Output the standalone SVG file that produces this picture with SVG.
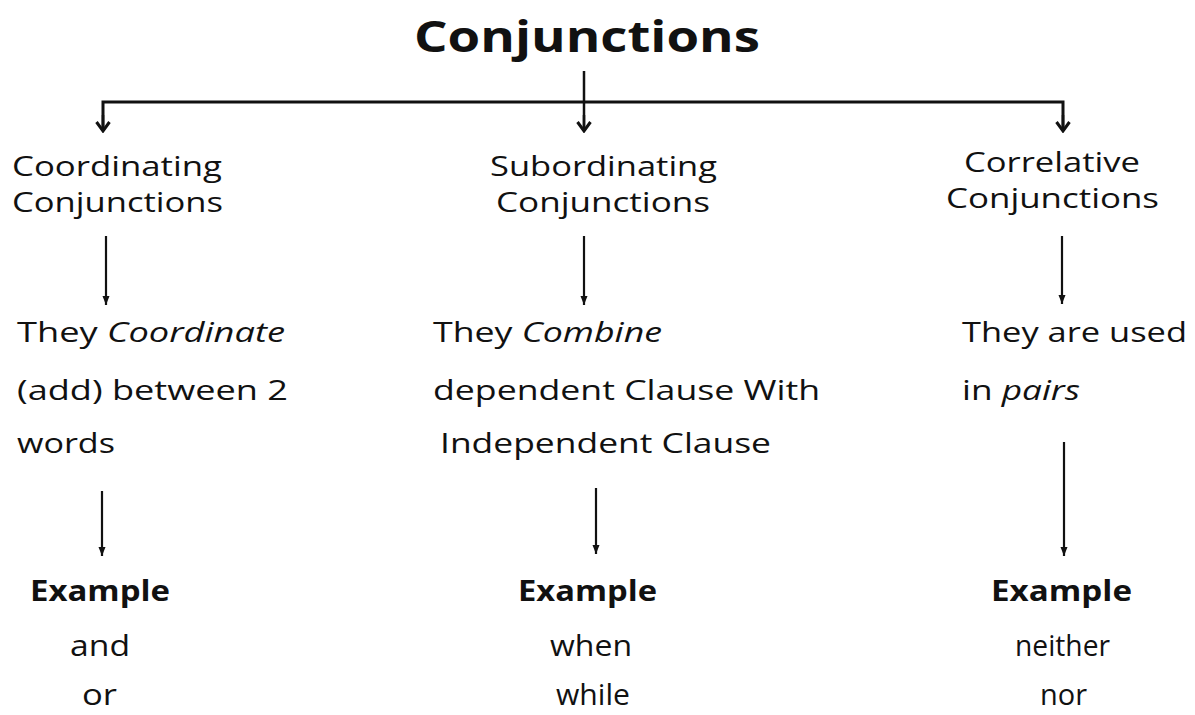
<svg xmlns="http://www.w3.org/2000/svg" width="1195" height="715" viewBox="0 0 1195 715">
<style>
text{font-family:"Open Sans","Liberation Sans",sans-serif;fill:#111}
.t{font-size:43px;font-weight:bold}
.c{font-size:27.5px}
.d{font-size:28px}
.ex{font-size:28px;font-weight:bold}
.w{font-size:30px}
.ln{stroke:#111;fill:none}
</style>
<defs>
<marker id="chev" markerWidth="12" markerHeight="16" refX="10" refY="8" orient="auto" markerUnits="userSpaceOnUse" viewBox="0 0 12 16">
<path d="M1,1.5 L10,8 L1,14.5" fill="none" stroke="#111" stroke-width="3"/>
</marker>
<marker id="tri" markerWidth="10" markerHeight="8" refX="9" refY="4" orient="auto" markerUnits="userSpaceOnUse" viewBox="0 0 10 8">
<path d="M0,0.5 L9,4 L0,7.5 Z" fill="#111"/>
</marker>
</defs>
<g id="title"><text class="t" x="414" y="52" textLength="346" lengthAdjust="spacingAndGlyphs">Conjunctions</text></g>
<g id="connectors">
<path class="ln" stroke-width="3" d="M103,131 V102 H1063 V131"/>
<path class="ln" stroke-width="2.5" d="M584,71 V131"/>
<path class="ln" stroke-width="2.5" marker-end="url(#chev)" d="M103,115 V131"/>
<path class="ln" stroke-width="2.5" marker-end="url(#chev)" d="M584,115 V131"/>
<path class="ln" stroke-width="2.5" marker-end="url(#chev)" d="M1063,115 V131"/>
<path class="ln" stroke-width="2.2" marker-end="url(#tri)" d="M106,236 V305"/>
<path class="ln" stroke-width="2.2" marker-end="url(#tri)" d="M584,236 V305"/>
<path class="ln" stroke-width="2.2" marker-end="url(#tri)" d="M1062,236 V304"/>
<path class="ln" stroke-width="2.2" marker-end="url(#tri)" d="M102,491 V556"/>
<path class="ln" stroke-width="2.2" marker-end="url(#tri)" d="M596,488 V554"/>
<path class="ln" stroke-width="2.2" marker-end="url(#tri)" d="M1064,442 V556"/>
</g>
<g id="coordinating">
<text class="c" x="12" y="176" textLength="210" lengthAdjust="spacingAndGlyphs">Coordinating</text>
<text class="c" x="12" y="212" textLength="211" lengthAdjust="spacingAndGlyphs">Conjunctions</text>
</g>
<g id="subordinating">
<text class="c" x="490" y="176" textLength="227" lengthAdjust="spacingAndGlyphs">Subordinating</text>
<text class="c" x="496" y="212" textLength="214" lengthAdjust="spacingAndGlyphs">Conjunctions</text>
</g>
<g id="correlative">
<text class="c" x="964" y="172" textLength="176" lengthAdjust="spacingAndGlyphs">Correlative</text>
<text class="c" x="946" y="208" textLength="213" lengthAdjust="spacingAndGlyphs">Conjunctions</text>
</g>
<g id="coord-desc">
<text class="d" x="17" y="342" textLength="268" lengthAdjust="spacingAndGlyphs">They <tspan font-style="italic">Coordinate</tspan></text>
<text class="d" x="17" y="400" textLength="271" lengthAdjust="spacingAndGlyphs">(add) between 2</text>
<text class="d" x="17" y="453" textLength="98" lengthAdjust="spacingAndGlyphs">words</text>
</g>
<g id="sub-desc">
<text class="d" x="433" y="342" textLength="229" lengthAdjust="spacingAndGlyphs">They <tspan font-style="italic">Combine</tspan></text>
<text class="d" x="433" y="400" textLength="387" lengthAdjust="spacingAndGlyphs">dependent Clause With</text>
<text class="d" x="440" y="453" textLength="331" lengthAdjust="spacingAndGlyphs">Independent Clause</text>
</g>
<g id="corr-desc">
<text class="d" x="962" y="342" textLength="225" lengthAdjust="spacingAndGlyphs">They are used</text>
<text class="d" x="962" y="400" textLength="118" lengthAdjust="spacingAndGlyphs">in <tspan font-style="italic">pairs</tspan></text>
</g>
<g id="coord-ex">
<text class="ex" x="30" y="601" textLength="140" lengthAdjust="spacingAndGlyphs">Example</text>
<text class="w" x="70" y="656" textLength="60" lengthAdjust="spacingAndGlyphs">and</text>
<text class="w" x="82" y="705" textLength="35" lengthAdjust="spacingAndGlyphs">or</text>
</g>
<g id="sub-ex">
<text class="ex" x="518" y="601" textLength="139" lengthAdjust="spacingAndGlyphs">Example</text>
<text class="w" x="550" y="656" textLength="82" lengthAdjust="spacingAndGlyphs">when</text>
<text class="w" x="556" y="705" textLength="74" lengthAdjust="spacingAndGlyphs">while</text>
</g>
<g id="corr-ex">
<text class="ex" x="991" y="601" textLength="141" lengthAdjust="spacingAndGlyphs">Example</text>
<text class="w" x="1015" y="656" textLength="95" lengthAdjust="spacingAndGlyphs">neither</text>
<text class="w" x="1040" y="705" textLength="47" lengthAdjust="spacingAndGlyphs">nor</text>
</g>
</svg>
